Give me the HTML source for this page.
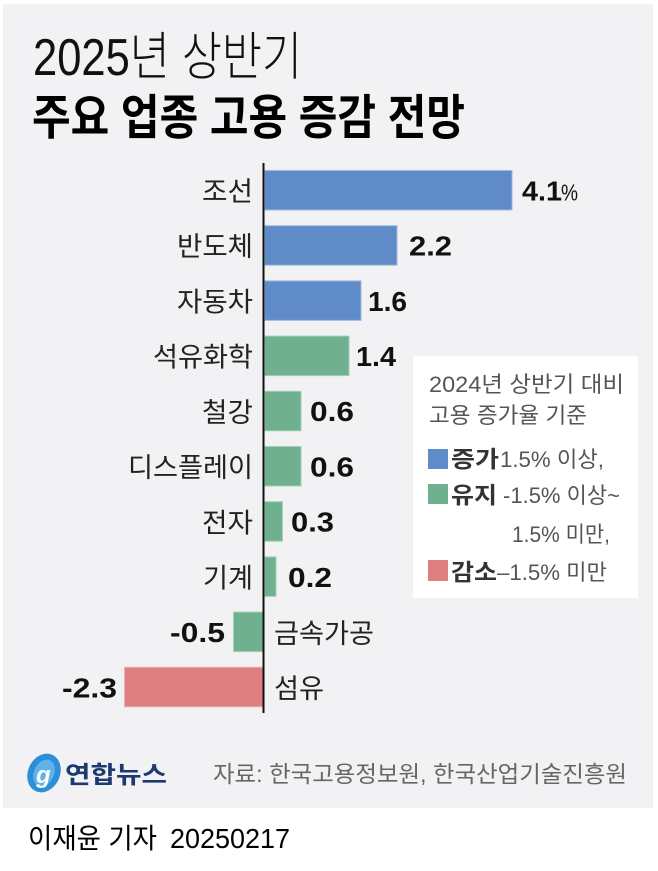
<!DOCTYPE html>
<html>
<head>
<meta charset="utf-8">
<style>
html,body{margin:0;padding:0;background:#fff;}
svg{display:block;}
text{font-family:"Liberation Sans","Noto Sans CJK KR",sans-serif;}
</style>
</head>
<body>
<svg width="658" height="871" viewBox="0 0 658 871" xmlns="http://www.w3.org/2000/svg">
  <rect x="0" y="0" width="658" height="871" fill="#ffffff"/>
  <rect x="3" y="4" width="650" height="804" fill="#f2f2f4"/>

  <!-- Title -->
  <text x="33" y="75" font-size="52" font-weight="300" fill="#111" textLength="269" lengthAdjust="spacingAndGlyphs">2025년 상반기</text>
  <text x="32" y="134" font-size="48" font-weight="700" fill="#000" textLength="433" lengthAdjust="spacingAndGlyphs">주요 업종 고용 증감 전망</text>

  <!-- Bars -->
  <g stroke-width="1">
    <rect x="264.5" y="170.5" width="247.5" height="39.5" fill="#5f8bc8" stroke="#9fb8e0"/>
    <rect x="264.5" y="225.7" width="132.5" height="39.5" fill="#5f8bc8" stroke="#9fb8e0"/>
    <rect x="264.5" y="280.9" width="96.5" height="39.5" fill="#5f8bc8" stroke="#9fb8e0"/>
    <rect x="264.5" y="336.1" width="84.5" height="39.5" fill="#6fb08f" stroke="#a3cfb6"/>
    <rect x="264.5" y="391.3" width="36.5" height="39.5" fill="#6fb08f" stroke="#a3cfb6"/>
    <rect x="264.5" y="446.5" width="36.5" height="39.5" fill="#6fb08f" stroke="#a3cfb6"/>
    <rect x="264.5" y="501.7" width="18" height="39.5" fill="#6fb08f" stroke="#a3cfb6"/>
    <rect x="264.5" y="556.9" width="11.5" height="39.5" fill="#6fb08f" stroke="#a3cfb6"/>
    <rect x="233.5" y="612.1" width="29.5" height="39.5" fill="#6fb08f" stroke="#a3cfb6"/>
    <rect x="124.5" y="667.3" width="138.5" height="39.5" fill="#df7f80" stroke="#ecaeae"/>
  </g>

  <!-- Axis -->
  <line x1="263.5" y1="163" x2="263.5" y2="713" stroke="#111" stroke-width="2"/>

  <!-- Category labels -->
  <g font-size="27" fill="#222" text-anchor="end">
    <text x="253" y="201" textLength="51" lengthAdjust="spacingAndGlyphs">조선</text>
    <text x="253" y="256" textLength="76" lengthAdjust="spacingAndGlyphs">반도체</text>
    <text x="253" y="311.5" textLength="76" lengthAdjust="spacingAndGlyphs">자동차</text>
    <text x="253" y="366.5" textLength="100" lengthAdjust="spacingAndGlyphs">석유화학</text>
    <text x="253" y="422" textLength="51" lengthAdjust="spacingAndGlyphs">철강</text>
    <text x="253" y="477" textLength="125" lengthAdjust="spacingAndGlyphs">디스플레이</text>
    <text x="253" y="532.5" textLength="51" lengthAdjust="spacingAndGlyphs">전자</text>
    <text x="253" y="587.5" textLength="50" lengthAdjust="spacingAndGlyphs">기계</text>
  </g>
  <g font-size="27" fill="#222">
    <text x="274" y="643" textLength="100" lengthAdjust="spacingAndGlyphs">금속가공</text>
    <text x="274" y="698" textLength="50" lengthAdjust="spacingAndGlyphs">섬유</text>
  </g>

  <!-- Value labels -->
  <g font-size="28" font-weight="700" fill="#111">
    <text x="522" y="200.5" textLength="40" lengthAdjust="spacingAndGlyphs">4.1</text>
    <text x="409" y="255.5" textLength="43" lengthAdjust="spacingAndGlyphs">2.2</text>
    <text x="368" y="311" textLength="39" lengthAdjust="spacingAndGlyphs">1.6</text>
    <text x="356" y="366" textLength="40" lengthAdjust="spacingAndGlyphs">1.4</text>
    <text x="310" y="421" textLength="44" lengthAdjust="spacingAndGlyphs">0.6</text>
    <text x="310" y="476.5" textLength="44" lengthAdjust="spacingAndGlyphs">0.6</text>
    <text x="291" y="531.5" textLength="43" lengthAdjust="spacingAndGlyphs">0.3</text>
    <text x="288" y="587" textLength="44" lengthAdjust="spacingAndGlyphs">0.2</text>
    <text x="170" y="642" textLength="55" lengthAdjust="spacingAndGlyphs">-0.5</text>
    <text x="62" y="697.5" textLength="55" lengthAdjust="spacingAndGlyphs">-2.3</text>
  </g>
  <text x="561" y="200.5" font-size="23" fill="#111" textLength="17" lengthAdjust="spacingAndGlyphs">%</text>

  <!-- Legend -->
  <rect x="413" y="356" width="225" height="242" fill="#ffffff"/>
  <g font-size="22" fill="#555">
    <text x="429" y="392" textLength="195" lengthAdjust="spacingAndGlyphs">2024년 상반기 대비</text>
    <text x="429" y="423" textLength="158" lengthAdjust="spacingAndGlyphs">고용 증가율 기준</text>
  </g>
  <rect x="428" y="449" width="20" height="20" fill="#5f8bc8"/>
  <rect x="428" y="484" width="20" height="20" fill="#6fb08f"/>
  <rect x="428" y="560" width="20" height="21" fill="#df7f80"/>
  <g font-size="23" font-weight="700" fill="#333">
    <text x="451" y="467" textLength="48" lengthAdjust="spacingAndGlyphs">증가</text>
    <text x="451" y="503" textLength="46" lengthAdjust="spacingAndGlyphs">유지</text>
    <text x="451" y="580" textLength="46" lengthAdjust="spacingAndGlyphs">감소</text>
  </g>
  <g font-size="22" fill="#555">
    <text x="500" y="467" textLength="104" lengthAdjust="spacingAndGlyphs">1.5% 이상,</text>
    <text x="503" y="503" textLength="117" lengthAdjust="spacingAndGlyphs">-1.5% 이상~</text>
    <text x="512" y="542" textLength="98" lengthAdjust="spacingAndGlyphs">1.5% 미만,</text>
    <text x="497" y="580" textLength="110" lengthAdjust="spacingAndGlyphs">–1.5% 미만</text>
  </g>

  <!-- Footer logo -->
  <g>
    <ellipse cx="44" cy="773" rx="16" ry="20" transform="rotate(25 44 773)" fill="#2c8fd8"/>
    <ellipse cx="44" cy="773" rx="10" ry="14" transform="rotate(25 44 773)" fill="#5fb3ea"/>
    <text x="36" y="783" font-size="24" font-style="italic" font-weight="700" fill="#ffffff">g</text>
  </g>
  <text x="65" y="783" font-size="24" font-weight="700" fill="#1d3a70" textLength="102" lengthAdjust="spacingAndGlyphs">연합뉴스</text>
  <text x="213" y="782" font-size="23" fill="#666" textLength="414" lengthAdjust="spacingAndGlyphs">자료: 한국고용정보원, 한국산업기술진흥원</text>

  <!-- Byline -->
  <text x="28" y="848" font-size="28" fill="#000" textLength="129" lengthAdjust="spacingAndGlyphs">이재윤 기자</text>
  <text x="170" y="848" font-size="28" fill="#000" textLength="120" lengthAdjust="spacingAndGlyphs">20250217</text>
</svg>
</body>
</html>
